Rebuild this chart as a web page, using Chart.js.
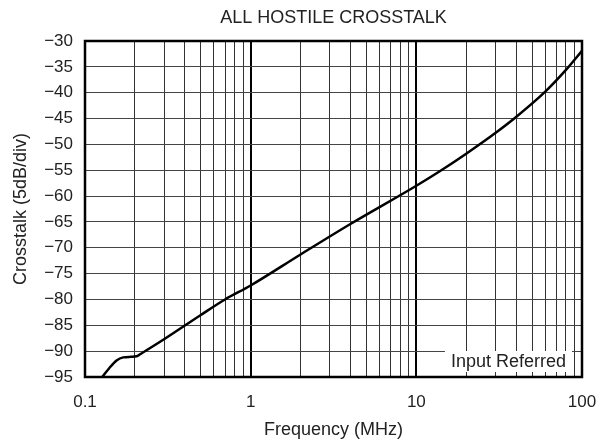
<!DOCTYPE html>
<html>
<head>
<meta charset="utf-8">
<script src="https://cdn.jsdelivr.net/npm/chart.js@4/dist/chart.umd.min.js"></script>
<style>
html,body{margin:0;padding:0;background:#fff;}
#wrap{width:613px;height:441px;}
</style>
</head>
<body>
<div id="wrap"><canvas id="grafico" width="613" height="441"></canvas></div>
<script>
// valores
const frecuencia = [0.127, 0.14, 0.155, 0.17, 0.19, 0.205, 0.22, 0.3, 0.5, 0.7, 1, 2, 4, 10, 14, 20, 30, 40, 60, 80, 100];
const crosstalk = [-95, -93.3, -91.8, -91.2, -91.1, -91.0, -90.4, -87.7, -83.0, -80.0, -77.3, -71.3, -65.4, -58.0, -55.1, -51.8, -47.8, -44.7, -39.8, -35.6, -31.9];
const etiquetasX = [0.1, 1, 10, 100];
const yMin = -95, yMax = -30, yPaso = 5;

const fuente = "'Liberation Sans', Arial, sans-serif";

let puntos = [];
for(let i=0;i<frecuencia.length;i++){
puntos.push({x:frecuencia[i], y:crosstalk[i]});
}

function esDecada(v){
return etiquetasX.some(function(d){return Math.abs(v-d)<1e-9;});
}

const marco = {
id:"marco",
afterDraw(chart){
const c = chart.ctx;
const a = chart.chartArea;
c.save();
// cuadro "Input Referred"
c.font = "18px " + fuente;
const txt = "Input Referred";
const w = c.measureText(txt).width;
c.fillStyle = "#fff";
c.fillRect(a.right-w-22, a.bottom-26, w+12, 21);
c.fillStyle = "#222";
c.textAlign = "left";
c.textBaseline = "middle";
c.fillText(txt, a.right-w-16, a.bottom-15);
// borde
c.strokeStyle = "#000";
c.lineWidth = 2.5;
c.strokeRect(a.left, a.top, a.right-a.left, a.bottom-a.top);
// titulo
c.font = "18px " + fuente;
c.textAlign = "center";
c.fillStyle = "#222";
c.fillText("ALL HOSTILE CROSSTALK", (a.left+a.right)/2, 18);
c.restore();
}
};

const ctx = document.getElementById("grafico");

let grafico = new Chart(ctx, {
type: "line",
data: {
datasets: [{
data: puntos,
borderColor: "#000",
borderWidth: 2.5,
pointRadius: 0,
cubicInterpolationMode: "monotone",
fill: false
}]
},
options: {
responsive: false,
animation: false,
layout: {padding: {top: 41, right: 31, left: 0, bottom: 0}},
plugins: {legend: {display: false}, tooltip: {enabled: false}},
scales: {
x: {
type: "logarithmic",
min: 0.1,
max: 100,
afterBuildTicks: function(scale){
let t = [];
for(let e=-1;e<2;e++){
for(let m=1;m<10;m++){
t.push({value: Number((m*Math.pow(10,e)).toPrecision(3))});
}
}
t.push({value: 100});
scale.ticks = t;
},
afterFit: function(scale){ scale.height = 64; },
grid: {
drawTicks: false,
color: function(c){ return esDecada(c.tick.value) ? "#000" : "#333"; },
lineWidth: function(c){ return esDecada(c.tick.value) ? 2 : 1; }
},
border: {display: false},
ticks: {
autoSkip: false,
maxRotation: 0,
padding: 15,
color: "#222",
font: {family: fuente, size: 17},
callback: function(v){ return esDecada(v) ? String(v) : ""; }
},
title: {
display: true,
text: "Frequency (MHz)",
color: "#222",
font: {family: fuente, size: 18},
padding: {top: 4, bottom: 0}
}
},
y: {
min: yMin,
max: yMax,
afterFit: function(scale){ scale.width = 85; },
grid: {drawTicks: false, color: "#444", lineWidth: 1},
border: {display: false},
ticks: {
stepSize: yPaso,
padding: 12,
color: "#222",
font: {family: fuente, size: 17},
callback: function(v){ return String(v).replace("-", "\u2212"); }
},
title: {
display: true,
text: "Crosstalk (5dB/div)",
color: "#222",
font: {family: fuente, size: 18},
padding: {top: 10, bottom: 0}
}
}
}
},
plugins: [marco]
});
</script>
</body>
</html>
